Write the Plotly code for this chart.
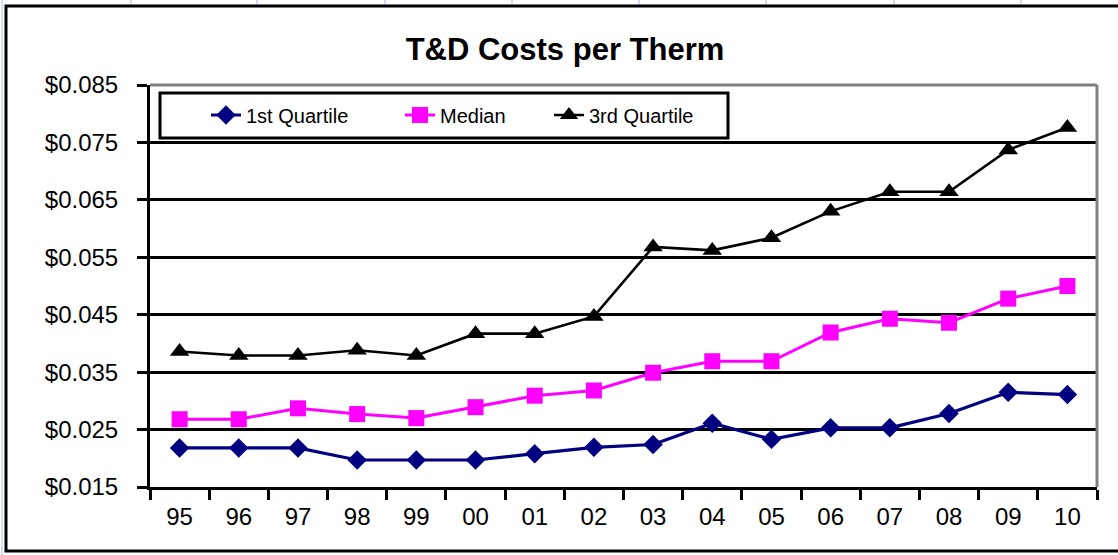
import plotly.graph_objects as go

years = ["95", "96", "97", "98", "99", "00", "01", "02", "03", "04", "05", "06", "07", "08", "09", "10"]
first_quartile = [0.0218, 0.0218, 0.0218, 0.0197, 0.0197, 0.0197, 0.0208, 0.0219, 0.0224, 0.0261,
                  0.0233, 0.0253, 0.0253, 0.0278, 0.0315, 0.0311]
median = [0.0268, 0.0268, 0.0287, 0.0277, 0.0270, 0.0289, 0.0309, 0.0318, 0.0349, 0.0369,
          0.0369, 0.0419, 0.0443, 0.0436, 0.0478, 0.0500]
third_quartile = [0.0386, 0.0379, 0.0379, 0.0388, 0.0379, 0.0417, 0.0417, 0.0447, 0.0568, 0.0562,
                  0.0584, 0.0630, 0.0664, 0.0664, 0.0737, 0.0776]
series_names = ["1st Quartile", "Median", "3rd Quartile"]
y_ticks = [0.015, 0.025, 0.035, 0.045, 0.055, 0.065, 0.075, 0.085]

W, H = 1118, 555
L, R, T, B = 150, 1097, 85, 487


def px(x):
    return (x - L) / (R - L)


def py(y):
    return (B - y) / (B - T)


FONT = "Liberation Sans, Arial, sans-serif"

fig = go.Figure()
fig.add_trace(go.Scatter(x=years, y=first_quartile, name=series_names[0], mode="lines+markers",
                         line=dict(color="#000080", width=3.2),
                         marker=dict(symbol="diamond", size=15, color="#000080"),
                         legend="legend", showlegend=True))
fig.add_trace(go.Scatter(x=years, y=median, name=series_names[1], mode="lines+markers",
                         line=dict(color="#FF00FF", width=3),
                         marker=dict(symbol="square", size=16, color="#FF00FF"),
                         legend="legend2", showlegend=True))
fig.add_trace(go.Scatter(x=years, y=third_quartile, name=series_names[2], mode="lines+markers",
                         line=dict(color="#000000", width=2.6),
                         marker=dict(symbol="triangle-up", size=17, color="#000000"),
                         legend="legend3", showlegend=True))

leg_common = dict(orientation="h", yanchor="middle", xanchor="left", bgcolor="rgba(0,0,0,0)",
                  borderwidth=0, font=dict(family=FONT, size=20, color="black"))

shapes = []
# faint spreadsheet cell lines
for xc in [131, 257, 385, 512, 639, 766, 894, 1021]:
    shapes.append(dict(type="line", xref="paper", yref="paper", x0=px(xc), x1=px(xc),
                       y0=py(0), y1=py(5), line=dict(color="#c9d3e6", width=1.5), layer="below"))
shapes.append(dict(type="line", xref="paper", yref="paper", x0=px(2), x1=px(2),
                   y0=py(0), y1=py(555), line=dict(color="#c9d3e6", width=1.5), layer="below"))
# outer chart border
shapes.append(dict(type="rect", xref="paper", yref="paper", x0=px(6), x1=px(1130),
                   y0=py(551), y1=py(6), line=dict(color="black", width=3), layer="above"))
# gray top and right plot borders
shapes.append(dict(type="line", xref="paper", yref="paper", x0=0, x1=1, y0=1, y1=1,
                   line=dict(color="#808080", width=3), layer="above"))
shapes.append(dict(type="line", xref="paper", yref="paper", x0=1, x1=1, y0=0, y1=1,
                   line=dict(color="#808080", width=3), layer="above"))
# legend box
shapes.append(dict(type="rect", xref="paper", yref="paper", x0=px(160), x1=px(728),
                   y0=py(138), y1=py(93), fillcolor="white", line=dict(color="black", width=3),
                   layer="above"))

fig.update_layout(
    width=W, height=H,
    margin=dict(l=L, r=W - R, t=T, b=H - B),
    paper_bgcolor="white", plot_bgcolor="white",
    showlegend=True,
    title=dict(text="<b>T&D Costs per Therm</b>", x=565 / W, xanchor="center",
               y=1 - 49 / H, yanchor="middle",
               font=dict(family=FONT, size=31, color="black")),
    legend=dict(x=px(206), y=py(115), **leg_common),
    legend2=dict(x=px(400), y=py(115), **leg_common),
    legend3=dict(x=px(549), y=py(115), **leg_common),
    shapes=shapes,
    xaxis=dict(type="category", tickson="boundaries", ticks="outside", ticklen=10, tickwidth=3,
               tickcolor="black", showline=True, linecolor="black", linewidth=3,
               showgrid=False, range=[-0.5, 15.5],
               tickfont=dict(family=FONT, size=24, color="black"), ticklabelstandoff=6),
    yaxis=dict(range=[0.015, 0.085], tickvals=y_ticks, tickformat="$.3f", ticks="outside",
               ticklen=10, tickwidth=3, tickcolor="black", showline=True, linecolor="black",
               linewidth=3, showgrid=True, gridcolor="black", gridwidth=2.5, zeroline=False,
               tickfont=dict(family=FONT, size=24, color="black"), ticklabelstandoff=14),
)

fig.write_html("out.html", config={"displayModeBar": False},
               post_script="document.body.style.margin='0';")
